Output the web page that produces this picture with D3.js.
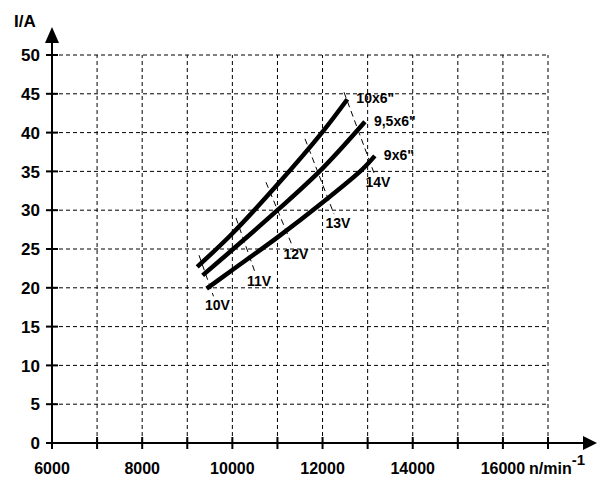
<!DOCTYPE html>
<html>
<head>
<meta charset="utf-8">
<script src="https://cdn.jsdelivr.net/npm/d3@7"></script>
<style>
	body { margin: 0; background: #fff; }
	svg { display: block; font-family: "Liberation Sans", Arial, sans-serif; font-weight: bold; }
</style>
</head>
<body>
<div id="chart"></div>
<script>
// propeller curves: rpm / current
var props = ["10x6\"", "9,5x6\"", "9x6\""];
var rpm10 = [9220, 10000, 11000, 12000, 12550];
var amp10 = [22.7, 27.0, 33.3, 40.1, 44.3];
var rpm95 = [9340, 10000, 11000, 12000, 12940];
var amp95 = [21.6, 24.9, 30.0, 35.4, 41.4];
var rpm9 = [9430, 10000, 11000, 12000, 12870, 13160];
var amp9 = [19.9, 22.3, 26.5, 31.0, 35.2, 37.0];

// voltage lines
var volts = ["10V", "11V", "12V", "13V", "14V"];
var voltRpm0 = [9260, 10081, 10746, 11611, 12476];
var voltAmp0 = [24.2, 29.0, 33.6, 39.2, 45.2];
var voltRpm1 = [9582, 10502, 11323, 12254, 13141];
var voltAmp1 = [18.9, 22.0, 25.5, 29.5, 34.8];

var xTicks = [7000, 8000, 9000, 10000, 11000, 12000, 13000, 14000, 15000, 16000, 17000];
var xLabels = [6000, 8000, 10000, 12000, 14000, 16000];
var yTicks = [0, 5, 10, 15, 20, 25, 30, 35, 40, 45, 50];

var width = 613, height = 478;
var x = d3.scaleLinear().domain([6000, 17000]).range([52, 548]);
var y = d3.scaleLinear().domain([0, 50]).range([443, 55]);

var svg = d3.select("#chart").append("svg")
	.attr("width", width)
	.attr("height", height);

// grid
svg.append("g").selectAll("line")
	.data(xTicks)
	.join("line")
	.attr("x1", d => x(d)).attr("x2", d => x(d))
	.attr("y1", y(0)).attr("y2", y(50))
	.attr("stroke", "#000").attr("stroke-width", 1)
	.attr("stroke-dasharray", "4,3");

svg.append("g").selectAll("line")
	.data(yTicks.slice(1))
	.join("line")
	.attr("x1", x(6000)).attr("x2", x(17000))
	.attr("y1", d => y(d)).attr("y2", d => y(d))
	.attr("stroke", "#000").attr("stroke-width", 1)
	.attr("stroke-dasharray", "4,3");

// axes
svg.append("line")
	.attr("x1", x(6000)).attr("x2", 585)
	.attr("y1", y(0)).attr("y2", y(0))
	.attr("stroke", "#000").attr("stroke-width", 2);
svg.append("path")
	.attr("d", `M597,${y(0)}L583,${y(0) - 7}L583,${y(0) + 7}Z`)
	.attr("fill", "#000");
svg.append("line")
	.attr("x1", x(6000)).attr("x2", x(6000))
	.attr("y1", y(0) + 6).attr("y2", 40)
	.attr("stroke", "#000").attr("stroke-width", 2);
svg.append("path")
	.attr("d", `M${x(6000)},27L${x(6000) - 7},43L${x(6000) + 7},43Z`)
	.attr("fill", "#000");

// ticks
svg.append("g").selectAll("line")
	.data(xTicks)
	.join("line")
	.attr("x1", d => x(d)).attr("x2", d => x(d))
	.attr("y1", y(0) - 6).attr("y2", y(0) + 6)
	.attr("stroke", "#000").attr("stroke-width", 2);
svg.append("g").selectAll("line")
	.data(yTicks)
	.join("line")
	.attr("x1", x(6000) - 6).attr("x2", x(6000) + 6)
	.attr("y1", d => y(d)).attr("y2", d => y(d))
	.attr("stroke", "#000").attr("stroke-width", 2);

svg.append("g").selectAll("text")
	.data(xLabels)
	.join("text")
	.attr("x", d => x(d))
	.attr("y", 474)
	.attr("text-anchor", "middle")
	.attr("font-size", 16)
	.text(d => d);
svg.append("g").selectAll("text")
	.data(yTicks)
	.join("text")
	.attr("x", 40)
	.attr("y", d => y(d))
	.attr("dy", "0.36em")
	.attr("text-anchor", "end")
	.attr("font-size", 17)
	.text(d => d);

svg.append("text").attr("x", 14).attr("y", 27).attr("font-size", 17).text("I/A");
var xl = svg.append("text").attr("x", 529).attr("y", 474).attr("font-size", 16);
xl.append("tspan").text("n/min");
xl.append("tspan").attr("dy", -9).attr("font-size", 15).text("-1");

// voltage lines
volts.forEach(function(v, i) {
	svg.append("line")
		.attr("x1", x(voltRpm0[i])).attr("y1", y(voltAmp0[i]))
		.attr("x2", x(voltRpm1[i])).attr("y2", y(voltAmp1[i]))
		.attr("stroke", "#000").attr("stroke-width", 1)
		.attr("stroke-dasharray", "6,4");
	svg.append("text")
		.attr("x", x(voltRpm1[i]) + 4)
		.attr("y", y(voltAmp1[i]) + 14)
		.attr("text-anchor", "middle")
		.attr("font-size", 14)
		.text(v);
});

// propeller curves
var curves = [
	d3.zip(rpm10, amp10),
	d3.zip(rpm95, amp95),
	d3.zip(rpm9, amp9)
];
var line = d3.line()
	.x(d => x(d[0]))
	.y(d => y(d[1]))
	.curve(d3.curveCatmullRom);

curves.forEach(function(c, i) {
	svg.append("path")
		.attr("d", line(c))
		.attr("fill", "none")
		.attr("stroke", "#000")
		.attr("stroke-width", 4.5);
	var last = c[c.length - 1];
	svg.append("text")
		.attr("x", x(last[0]) + 9)
		.attr("y", y(last[1]) + 4)
		.attr("font-size", 14)
		.text(props[i]);
});
</script>
</body>
</html>
